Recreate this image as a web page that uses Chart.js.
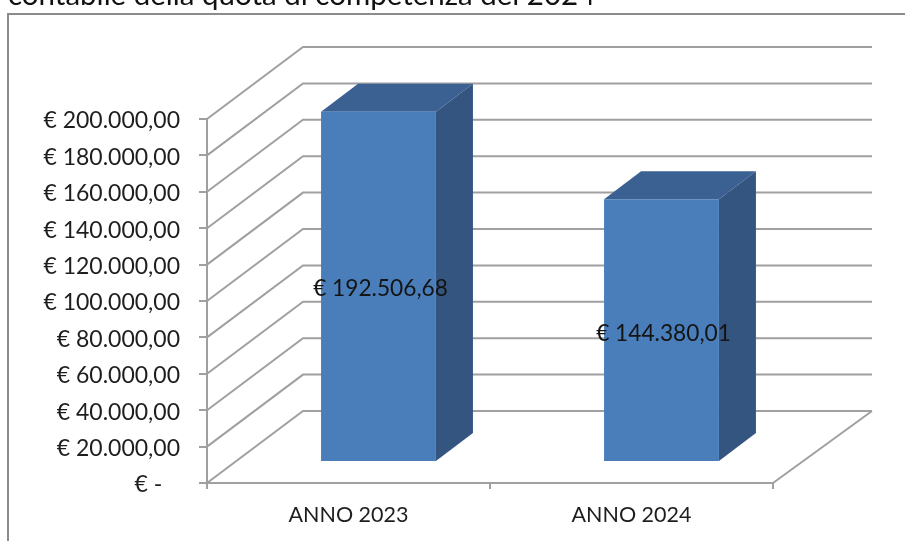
<!DOCTYPE html>
<html lang="it">
<head>
<meta charset="utf-8">
<title>Quota di competenza</title>
<script src="https://cdn.jsdelivr.net/npm/chart.js@4/dist/chart.umd.js"></script>
<style>
  html, body { margin: 0; padding: 0; background: #fff; overflow: hidden; }
  #wrap { position: absolute; left: 0; top: 0; width: 905px; height: 541px; }
  canvas { filter: blur(0.5px); }
</style>
</head>
<body>
<div id="wrap"><canvas id="chart"></canvas></div>
<script>
const categories = ["ANNO 2023", "ANNO 2024"];
const values = [192506.68, 144380.01];
const valueLabels = ["€ 192.506,68", "€ 144.380,01"];
const tickLabels = ["€ -", "€ 20.000,00", "€ 40.000,00", "€ 60.000,00", "€ 80.000,00", "€ 100.000,00",
  "€ 120.000,00", "€ 140.000,00", "€ 160.000,00", "€ 180.000,00", "€ 200.000,00"];
const headline = "contabile della quota di competenza del 2024";

const FONT = "Lato, Carlito, sans-serif";
const GREY = "#a0a0a0";

// depth of the fake 3D box, and of the bars inside it
const wallDx = 96, wallDxRight = 99, wallDy = -72;
const barShiftX = 30, barShiftY = -21;
const barDx = 37, barDy = -28;

const fake3d = {
  id: "fake3d",
  beforeDatasetsDraw(chart) {
    const { ctx, scales: { x, y } } = chart;
    ctx.save();
    ctx.strokeStyle = GREY;
    ctx.lineWidth = 2;
    // wall lines, one per tick
    y.ticks.forEach((t) => {
      const py = y.getPixelForValue(t.value);
      ctx.beginPath();
      ctx.moveTo(x.left, py);
      ctx.lineTo(x.left + wallDx, py + wallDy);
      ctx.lineTo(x.right + wallDxRight, py + wallDy);
      ctx.stroke();
    });
    // floor edge on the right
    const py0 = y.getPixelForValue(0);
    ctx.beginPath();
    ctx.moveTo(x.right, py0);
    ctx.lineTo(x.right + wallDxRight, py0 + wallDy);
    ctx.stroke();
    ctx.restore();
  },
  beforeDatasetDraw(chart) {
    const { ctx } = chart;
    ctx.save();
    ctx.translate(barShiftX, barShiftY);
    chart.getDatasetMeta(0).data.forEach((bar) => {
      const l = bar.x - bar.width / 2, r = bar.x + bar.width / 2;
      // top
      ctx.fillStyle = "#3b6193";
      ctx.beginPath();
      ctx.moveTo(l, bar.y);
      ctx.lineTo(l + barDx, bar.y + barDy);
      ctx.lineTo(r + barDx, bar.y + barDy);
      ctx.lineTo(r, bar.y);
      ctx.fill();
      // side
      ctx.fillStyle = "#34557f";
      ctx.beginPath();
      ctx.moveTo(r, bar.y);
      ctx.lineTo(r + barDx, bar.y + barDy);
      ctx.lineTo(r + barDx, bar.base + barDy);
      ctx.lineTo(r, bar.base);
      ctx.fill();
    });
  },
  afterDatasetDraw(chart) {
    chart.ctx.restore();
  },
  afterDatasetsDraw(chart) {
    const { ctx } = chart;
    ctx.save();
    // value labels sit a little right of the bar centre
    ctx.font = "22.7px " + FONT;
    ctx.fillStyle = "#141414";
    ctx.textAlign = "center";
    ctx.textBaseline = "middle";
    chart.getDatasetMeta(0).data.forEach((bar, i) => {
      const mid = (bar.y + bar.base) / 2 + barShiftY;
      ctx.fillText(valueLabels[i], bar.x + barShiftX + 2, mid + (i ? 4 : 2));
    });
    // line of body text cut by the top of the picture
    ctx.font = "29.5px " + FONT;
    ctx.fillStyle = "#111";
    ctx.textAlign = "left";
    ctx.textBaseline = "alphabetic";
    ctx.fillText(headline, 8, 5);
    // frame, only top and left
    ctx.strokeStyle = "#8c8c8c";
    ctx.lineWidth = 2;
    ctx.beginPath();
    ctx.moveTo(8, 541);
    ctx.lineTo(8, 14);
    ctx.lineTo(905, 14);
    ctx.stroke();
    ctx.restore();
  },
};

new Chart(document.getElementById("chart"), {
  type: "bar",
  data: {
    labels: categories,
    datasets: [{ data: values, backgroundColor: "#4a7ebb", barPercentage: 0.406, categoryPercentage: 1 }],
  },
  options: {
    responsive: true,
    maintainAspectRatio: false,
    animation: false,
    layout: { autoPadding: false, padding: { left: 0, top: 119, right: 132, bottom: 0 } },
    plugins: { legend: { display: false }, title: { display: false }, tooltip: { enabled: false } },
    scales: {
      x: {
        afterFit(scale) { scale.height = 58; },
        grid: { drawOnChartArea: false, color: GREY, lineWidth: 2, tickLength: 6, offset: true },
        border: { color: GREY, width: 2 },
        ticks: { color: "#1e1e1e", padding: 13, font: { family: FONT, size: 21.5 }, maxRotation: 0 },
      },
      y: {
        min: 0,
        max: 200000,
        afterFit(scale) { scale.width = 207; },
        grid: { drawOnChartArea: false, color: GREY, lineWidth: 2, tickLength: 8 },
        border: { color: GREY, width: 2 },
        ticks: {
          stepSize: 20000,
          padding: 19,
          labelOffset: 2,
          color: "#1e1e1e",
          font: { family: FONT, size: 23 },
          callback: (v, i) => tickLabels[i] + (i === 0 ? "\u00a0\u00a0\u00a0" : ""),
        },
      },
    },
  },
  plugins: [fake3d],
});
</script>
</body>
</html>
